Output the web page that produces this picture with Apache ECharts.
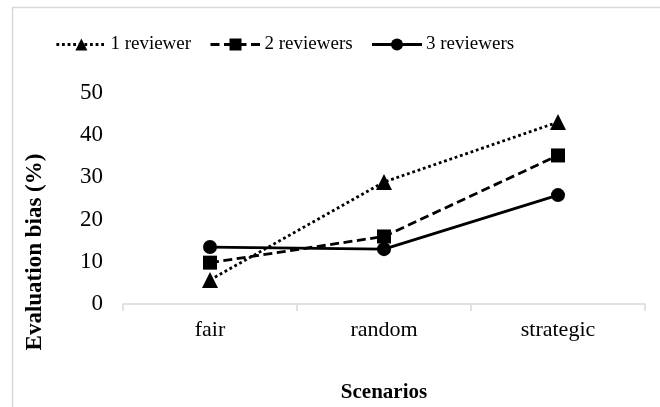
<!DOCTYPE html>
<html><head><meta charset="utf-8">
<script src="https://cdn.jsdelivr.net/npm/echarts@6/dist/echarts.min.js"></script>
<style>html,body{margin:0;padding:0;background:#fff}#c{width:660px;height:407px}</style>
</head><body><div id="c"></div>
<script>
var categories = ['fair', 'random', 'strategic'];
var oneReviewer = [5.7, 28.9, 43.1];
var twoReviewers = [9.8, 16.0, 35.2];
var threeReviewers = [13.5, 13.0, 25.8];
var seriesNames = ['1 reviewer', '2 reviewers', '3 reviewers'];
var yTicks = [0, 10, 20, 30, 40, 50];

var FONT = '"Liberation Serif", "Times New Roman", serif';
var chart = echarts.init(document.getElementById('c'), null, {renderer: 'canvas'});
chart.setOption({
  animation: false,
  backgroundColor: '#fff',
  textStyle: {fontFamily: FONT, color: '#000'},
  graphic: [
    {type: 'rect', shape: {x: 12.5, y: 7.5, width: 700, height: 500}, style: {fill: 'none', stroke: '#d9d9d9', lineWidth: 1.5}, silent: true},
    {type: 'text', x: 35, y: 252, rotation: Math.PI / 2,
     style: {text: 'Evaluation bias (%)', font: 'bold 23px ' + FONT, fill: '#000', align: 'center', verticalAlign: 'middle'}}
  ],
  legend: {
    left: 50, top: 30,
    itemWidth: 50, itemHeight: 15, itemGap: 18,
    lineStyle: {width: 2.8},
    textStyle: {fontFamily: FONT, fontSize: 19, color: '#000', padding: [0, 0, 0, -1]},
    data: seriesNames
  },
  grid: {left: 123, right: 15, top: 93, bottom: 103, outerBoundsMode: 'none', containLabel: false},
  xAxis: {
    type: 'category', data: categories, boundaryGap: true,
    axisLine: {lineStyle: {color: '#d9d9d9', width: 1.5}},
    axisTick: {show: true, interval: 0, length: 7, lineStyle: {color: '#d9d9d9', width: 1.5}},
    axisLabel: {fontFamily: FONT, fontSize: 22, color: '#000', margin: 15},
    name: 'Scenarios', nameLocation: 'middle', nameGap: 78,
    nameTextStyle: {fontFamily: FONT, fontSize: 21, fontWeight: 'bold', color: '#000'}
  },
  yAxis: {
    type: 'value', min: yTicks[0], max: yTicks[yTicks.length - 1], interval: 10,
    axisLine: {show: false}, axisTick: {show: false}, splitLine: {show: false},
    axisLabel: {fontFamily: FONT, fontSize: 23, color: '#000', margin: 20}
  },
  series: [
    {name: seriesNames[0], type: 'line', data: oneReviewer, symbol: 'triangle', symbolSize: 16,
     lineStyle: {color: '#000', width: 2.8, type: [2.8, 2.8]}, itemStyle: {color: '#000'}},
    {name: seriesNames[1], type: 'line', data: twoReviewers, symbol: 'rect', symbolSize: 14,
     lineStyle: {color: '#000', width: 2.8, type: [9, 4.5]}, itemStyle: {color: '#000'}},
    {name: seriesNames[2], type: 'line', data: threeReviewers, symbol: 'circle', symbolSize: 14,
     lineStyle: {color: '#000', width: 2.8, type: 'solid'}, itemStyle: {color: '#000'}}
  ]
});
</script></body></html>
